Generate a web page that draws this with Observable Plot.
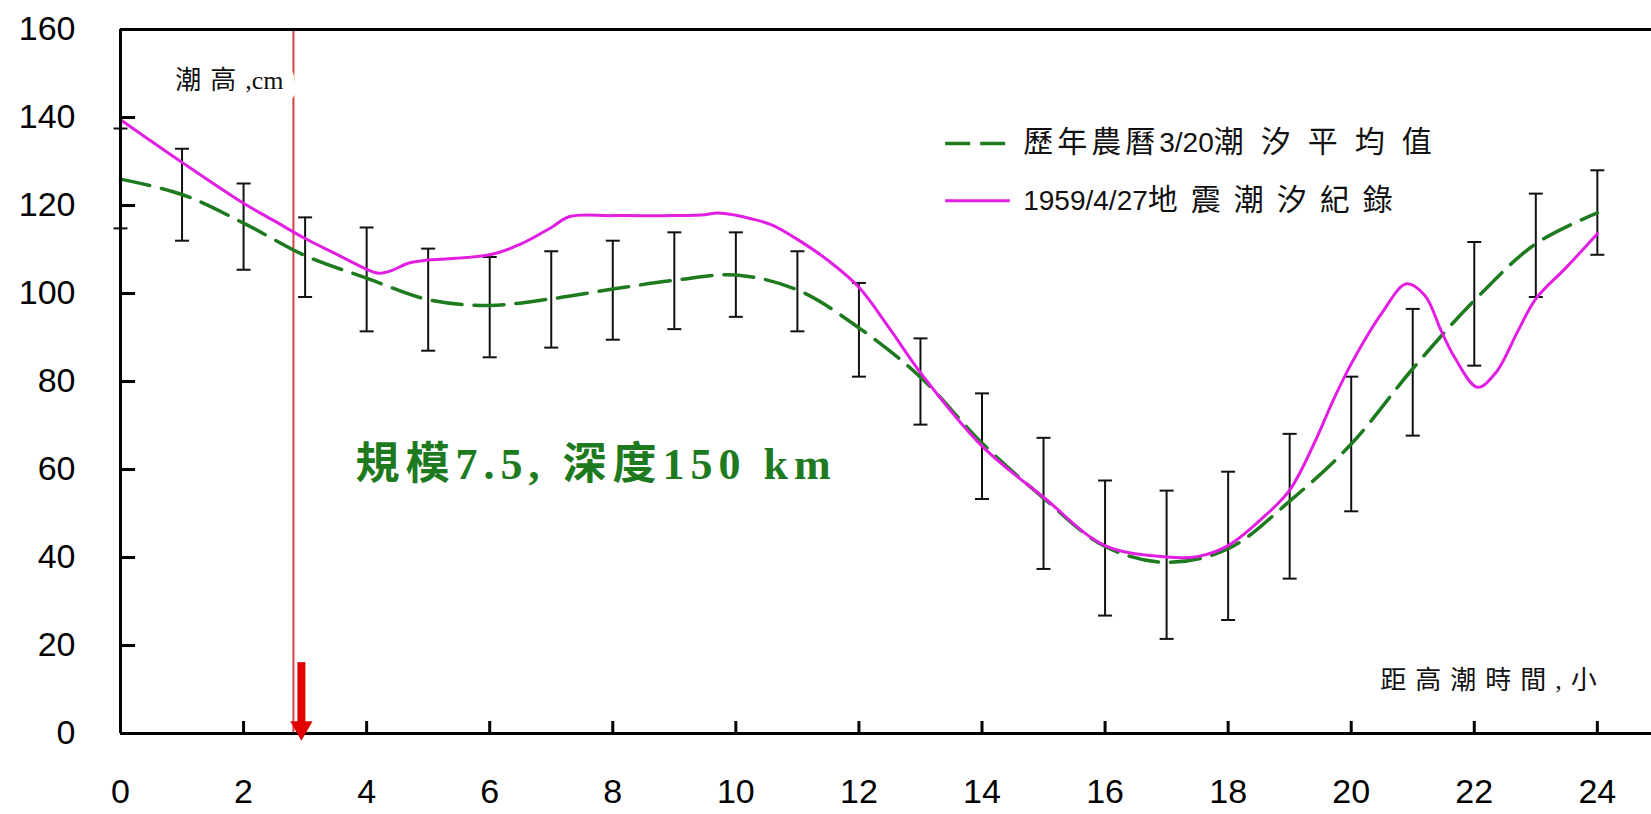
<!DOCTYPE html>
<html>
<head>
<meta charset="utf-8">
<script src="https://cdn.jsdelivr.net/npm/d3@7"></script>
<script src="https://cdn.jsdelivr.net/npm/@observablehq/plot@0.6"></script>
<style>
  html, body { margin: 0; padding: 0; background: #fff; }
  #chart { width: 1651px; height: 814px; overflow: hidden; }
</style>
</head>
<body>
<div id="chart"></div>
<script>
// ---- data ----
const hours = [0,1,2,3,4,5,6,7,8,9,10,11,12,13,14,15,16,17,18,19,20,21,22,23,24];
const meanTide = [126,122.5,116,108.6,103.5,98.6,97.3,98.8,101,103,104.2,100.8,92.2,81,66,53.5,42.5,38.9,42,52.8,65.8,82.9,98.4,111.3,118.3];
const errTop = [137.5,132.9,125,117.3,115,110.2,108.3,109.6,112,113.9,113.9,109.6,102.4,89.8,77.3,67.2,57.5,55.2,59.5,68.1,81.1,96.5,111.7,122.7,128];
const errBottom = [114.8,112,105.4,99.2,91.4,87,85.5,87.7,89.5,91.9,94.7,91.4,81.1,70.2,53.3,37.4,26.8,21.5,25.8,35.2,50.5,67.7,83.6,99.2,108.8];

const quakeHour = [0,1,2,2.5,3,3.5,4,4.2,4.4,4.7,5,6,6.5,7,7.3,8,9,9.5,9.7,10,10.25,10.6,11,11.5,12,12.5,13,14,15,16,17,17.5,18,18.6,19,19.4,19.7,20,20.5,20.9,21.2,21.46,21.68,22.05,22.35,22.71,23,23.5,24];
const quakeTide = [139.5,129.8,120.5,116.5,112.5,109,105.5,104.6,105.2,107,107.6,108.8,111.2,115,117.5,117.7,117.7,117.9,118.3,117.8,117,115.5,112.3,107.5,101.4,92,82,65.3,53.7,42.7,40.1,40.2,42.7,49.5,55.3,66,75.5,84,95.6,102.2,99.5,91.6,85.5,78.7,82,91.5,98.8,106,113.6];

const yTickValues = [0,20,40,60,80,100,120,140,160];
const xTickValues = [0,2,4,6,8,10,12,14,16,18,20,22,24];
const seriesNames = ["歷年農曆3/20潮汐平均值", "1959/4/27地震潮汐紀錄"];
const yAxisTitle = "潮高,cm";
const xAxisTitle = "距高潮時間,小";
const quakeNote = "規模7.5, 深度150 km";
const quakeHourMark = 2.81;   // earthquake time (red line)
const arrowHour = 2.94;       // red arrow

// ---- layout ----
const W = 1651, H = 814;
const mL = 120, mR = 0, mT = 29, mB = 81;
const plotW = W - mL - mR, plotH = H - mT - mB;
const xMax = 24.88;

const green = "#1e7a1e", magenta = "#e21ee2", red = "#e00000", thinRed = "#d04545";
const sans = "'Liberation Sans', Arial, 'Noto Sans CJK TC', sans-serif";
const serifLight = "'Liberation Serif', 'Noto Sans CJK TC', serif";

const meanData = hours.map((h, i) => ({h, v: meanTide[i], top: errTop[i], bottom: errBottom[i]}));
const quakeData = quakeHour.map((h, i) => ({h, v: quakeTide[i]}));

const capSymbol = {draw(ctx, size) { const w = Math.sqrt(size / Math.PI); ctx.moveTo(-w, 0); ctx.lineTo(w, 0); }};

const legY = [134.1, 121.1];
const legX1 = 13.41, legX2 = 14.46, legTX = 14.67;

const chart = Plot.plot({
  width: W, height: H,
  marginLeft: mL, marginRight: mR, marginTop: mT, marginBottom: mB,
  style: {fontFamily: sans, background: "white", color: "black", overflow: "visible"},
  x: {domain: [0, xMax], label: null},
  y: {domain: [0, 160], label: null},
  marks: [
    Plot.axisY({ticks: yTickValues, tickSize: 0, tickPadding: 45, fontSize: 34, label: null, tickFormat: d => String(d)}),
    Plot.axisX({ticks: xTickValues, tickSize: 0, tickPadding: 45, fontSize: 34, label: null, tickFormat: d => String(d)}),
    Plot.ruleX([quakeHourMark], {stroke: thinRed, strokeWidth: 2}),
    Plot.text([yAxisTitle], {x: 0.89, y: 148.4, text: d => d, textAnchor: "start", fontSize: 26, fontFamily: serifLight, fill: "#111", stroke: "white", strokeWidth: 26, paintOrder: "stroke"}),
    Plot.text([xAxisTitle], {x: 20.47, y: 12.0, text: d => d, textAnchor: "start", fontSize: 26, fontFamily: serifLight, fill: "#111"}),
    Plot.ruleX(meanData, {x: "h", y1: "bottom", y2: "top", stroke: "#111", strokeWidth: 2}),
    Plot.dot(meanData, {x: "h", y: "top", symbol: capSymbol, r: 7, stroke: "#111", strokeWidth: 2, fill: "none"}),
    Plot.dot(meanData, {x: "h", y: "bottom", symbol: capSymbol, r: 7, stroke: "#111", strokeWidth: 2, fill: "none"}),
    Plot.line(meanData, {x: "h", y: "v", curve: "catmull-rom", stroke: green, strokeWidth: 3.5, strokeDasharray: "30,12"}),
    Plot.line(quakeData, {x: "h", y: "v", curve: "catmull-rom", stroke: magenta, strokeWidth: 3}),
    Plot.ruleY([0, 160], {stroke: "black", strokeWidth: 3}),
    Plot.ruleX([0], {stroke: "black", strokeWidth: 3}),
    Plot.ruleY(yTickValues.filter(d => d > 0 && d < 160), {stroke: "black", strokeWidth: 3, insetRight: plotW - 15}),
    Plot.ruleX(xTickValues.filter(d => d > 0), {stroke: "black", strokeWidth: 3, insetTop: plotH - 12}),
    Plot.ruleX([arrowHour], {y1: 16.1, y2: 2.5, stroke: red, strokeWidth: 8}),
    Plot.dot([arrowHour], {x: d => d, y: 1.3, symbol: "triangle", r: 8.3, rotate: 180, fill: red, stroke: "none"}),
    Plot.text([quakeNote], {x: 3.82, y: 61.1, text: d => d, textAnchor: "start", fontSize: 44, fontWeight: "bold", fontFamily: "'Liberation Serif', 'Noto Sans CJK TC', serif", fill: green}),
    Plot.ruleY([legY[0]], {x1: legX1, x2: legX2, stroke: green, strokeWidth: 3.5, strokeDasharray: "25,10"}),
    Plot.ruleY([legY[1]], {x1: legX1, x2: legX2, stroke: magenta, strokeWidth: 3}),
    Plot.text(seriesNames, {x: legTX, y: (d, i) => legY[i], text: d => d, textAnchor: "start", fontSize: 28, fontFamily: sans, fill: "#111"})
  ]
});

// letter spacing (and CJK size) per run
const spacing = new Map([
  [seriesNames[0], {cjk: [4, 17], latin: 0, cjkSize: 30}],
  [seriesNames[1], {cjk: [13], latin: 0, cjkSize: 30}],
  [yAxisTitle, {cjk: [9], latin: 0}],
  [xAxisTitle, {cjk: [9, 9], latin: 9}],
  [quakeNote, {cjk: [6, 6], latin: 6}]
]);
const runRe = /[\u3000-\u9fff\uff00-\uffef]+|[^\u3000-\u9fff\uff00-\uffef]+/g;
const isCJK = s => /[\u3000-\u9fff\uff00-\uffef]/.test(s);
d3.select(chart).selectAll("text").each(function() {
  const cfg = spacing.get(this.textContent);
  if (!cfg) return;
  const runs = this.textContent.match(runRe);
  this.textContent = "";
  let ci = 0;
  for (const r of runs) {
    const t = document.createElementNS("http://www.w3.org/2000/svg", "tspan");
    t.textContent = r;
    const cjk = isCJK(r);
    const ls = cjk ? (cfg.cjk[ci++] ?? cfg.cjk[cfg.cjk.length - 1]) : cfg.latin;
    if (ls) t.setAttribute("letter-spacing", ls + "px");
    if (cjk && cfg.cjkSize) t.setAttribute("font-size", cfg.cjkSize);
    this.appendChild(t);
  }
});

document.getElementById("chart").appendChild(chart);
</script>
</body>
</html>
